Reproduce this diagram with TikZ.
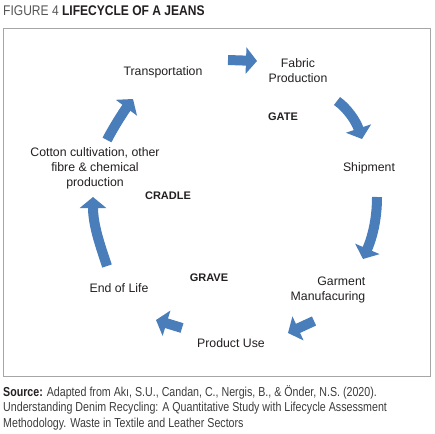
\documentclass[tikz,border=0pt]{standalone}
\usepackage{fontspec}
\setmainfont{Liberation Sans}
\newfontfamily\condfont[FakeStretch=0.86]{Liberation Sans}
\newfontfamily\srcfont[FakeStretch=0.82]{Liberation Sans}
\usetikzlibrary{arrows.meta}
\definecolor{arrowblue}{HTML}{4A7EBB}
\definecolor{txt}{HTML}{231F20}
\definecolor{framegray}{HTML}{A6A6A6}
\definecolor{figgray}{HTML}{555555}
\definecolor{srcgray}{HTML}{3C3C3C}
\begin{document}
\begin{tikzpicture}[x=1pt,y=-1pt,
  lbl/.style={text=txt,font=\fontsize{12.3}{15}\selectfont,inner sep=0pt,align=center},
  stagelbl/.style={text=txt,font=\bfseries\fontsize{11}{13}\selectfont,inner sep=0pt},
  flow/.style={draw=arrowblue,line width=10pt,-{Triangle[width=26pt,length=11pt]}},
]
\useasboundingbox (0,0) rectangle (435,433);
% title
\node[anchor=base west,inner sep=0pt,font=\condfont\fontsize{14}{16}\selectfont] (title) at (3,16)
  {\textcolor{figgray}{FIGURE 4} \textcolor{txt}{\bfseries LIFECYCLE OF A JEANS}};
% frame
\draw[framegray,line width=1pt] (3,29) rectangle (430,376);
% labels
\node[lbl] (trans) at (163,72) {Transportation};
\node[lbl] (fabric) at (298,71) {Fabric\\Production};
\node[stagelbl] (gate) at (283,117) {GATE};
\node[lbl] (ship) at (369,168) {Shipment};
\node[lbl] (cotton) at (95,168) {Cotton cultivation, other\\fibre \& chemical\\production};
\node[stagelbl] (cradle) at (168,196) {CRADLE};
\node[stagelbl] (grave) at (209,278) {GRAVE};
\node[lbl] (eol) at (119,288) {End of Life};
\node[lbl] (use) at (231,343) {Product Use};
\node[lbl,align=right] (garment) at (328,290) {Garment\\Manufacuring};
% arrow end points
\coordinate (a1s) at (228,60);  \coordinate (a1e) at (257,61);
\coordinate (a2s) at (337,101); \coordinate (a2e) at (362,139);
\coordinate (a3s) at (377,197); \coordinate (a3e) at (363,259);
\coordinate (a4s) at (314,321); \coordinate (a4e) at (288,333);
\coordinate (a5s) at (182,328); \coordinate (a5e) at (156,320);
\coordinate (a6s) at (107,266); \coordinate (a6e) at (93,197);
\coordinate (a7s) at (107,140); \coordinate (a7e) at (133,99);
% arrows
\draw[flow] (a1s) -- (a1e);
\draw[flow] (a2s) .. controls (347,108) and (356,121) .. (a2e);
\draw[flow] (a3s) .. controls (377,220) and (372,238) .. (a3e);
\draw[flow] (a4s) -- (a4e);
\draw[flow] (a5s) -- (a5e);
\draw[flow] (a6s) .. controls (100,245) and (93,225) .. (a6e);
\draw[flow] (a7s) .. controls (113,128) and (124,111) .. (a7e);
% source
\node[anchor=base west,inner sep=0pt,align=left,text=srcgray,
  font=\srcfont\fontsize{13}{15.5}\selectfont] (src) at (3,427)
  {\textcolor{txt}{\bfseries Source:} Adapted from Akı, S.U., Candan, C., Nergis, B., \& Önder, N.S. (2020).\\
   Understanding Denim Recycling: A Quantitative Study with Lifecycle Assessment\\
   Methodology. Waste in Textile and Leather Sectors};
\end{tikzpicture}
\end{document}
